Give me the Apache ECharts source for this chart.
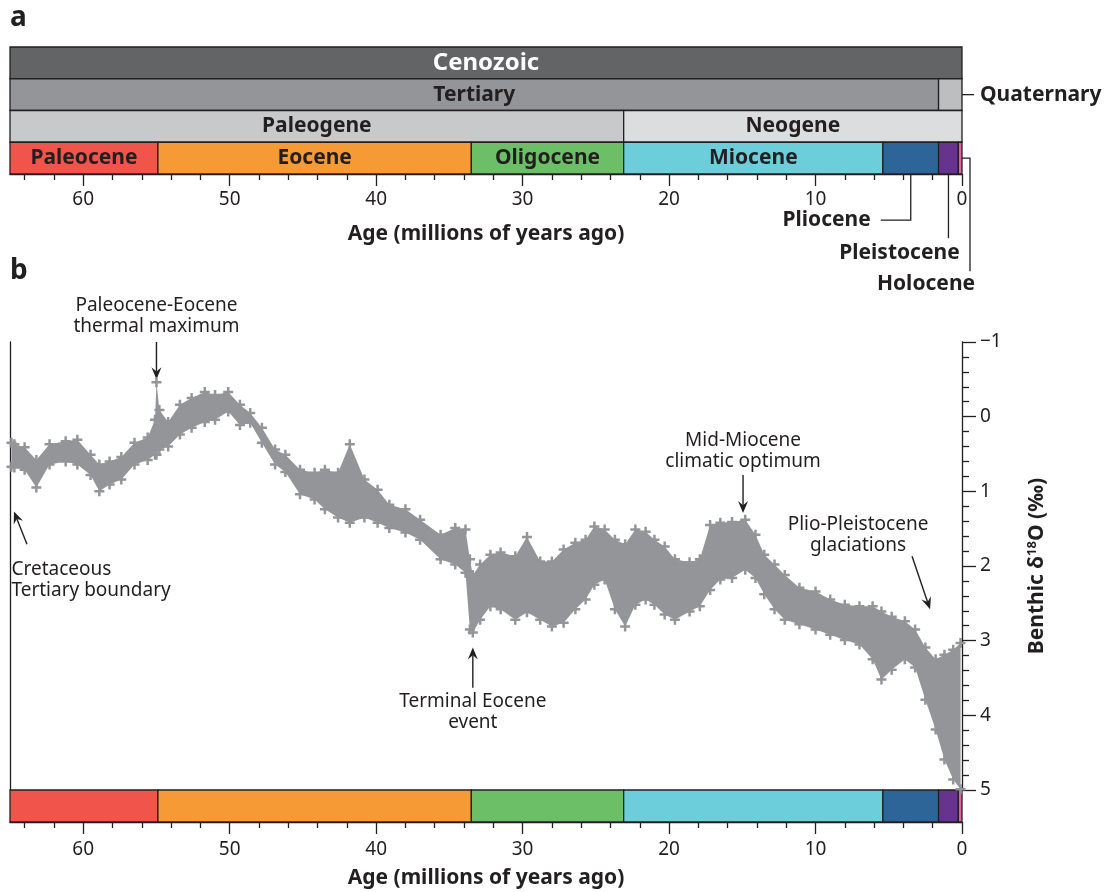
<!DOCTYPE html>
<html>
<head>
<meta charset="utf-8">
<script src="https://cdn.jsdelivr.net/npm/echarts@6.0.0/dist/echarts.min.js"></script>
<style>
  html, body { margin: 0; padding: 0; background: #fff; }
  #chart { width: 1106px; height: 892px; }
</style>
</head>
<body>
<div id="chart"></div>
<script>
const FONT = '"Noto Sans", "Open Sans", sans-serif';
const INK = '#231f20';
const GRAY = '#939598';

// geologic time scale, ages in Ma
const rowNames = ['era', 'period', 'subperiod', 'epoch'];
const eraNames = ['Cenozoic'];
const eraStart = [65];
const eraEnd = [0];
const periodNames = ['Tertiary', 'Quaternary'];
const periodStart = [65, 1.6];
const periodEnd = [1.6, 0];
const subperiodNames = ['Paleogene', 'Neogene'];
const subperiodStart = [65, 23.1];
const subperiodEnd = [23.1, 0];
const epochNames = ['Paleocene', 'Eocene', 'Oligocene', 'Miocene', 'Pliocene', 'Pleistocene', 'Holocene'];
const epochStart = [65, 54.9, 33.5, 23.1, 5.4, 1.6, 0.25];
const epochEnd = [54.9, 33.5, 23.1, 5.4, 1.6, 0.25, 0];

// axis ticks
const ageMajorTicks = [0, 10, 20, 30, 40, 50, 60];
const ageMinorTicks = [2, 4, 6, 8, 12, 14, 16, 18, 22, 24, 26, 28, 32, 34, 36, 38, 42, 44, 46, 48, 52, 54, 56, 58, 62, 64];

// benthic d18O record: age, lightest and heaviest values of the cloud
const ages = [64.9, 64.7, 64.0, 63.2, 62.3, 61.2, 60.4, 59.5, 58.9, 58.2, 57.4, 56.5, 55.6, 55.1, 55.0, 54.8,
  54.2, 53.4, 52.6, 51.7, 51.0, 50.1, 49.3, 48.6, 47.8, 46.9, 46.2, 45.2, 44.2, 43.5, 42.6, 41.8,
  40.8, 39.9, 39.1, 38.0, 37.0, 35.6, 34.6, 33.9, 33.6, 33.4, 32.9, 32.2, 31.5, 30.5, 29.7, 28.8,
  28.0, 27.2, 26.4, 25.7, 25.1, 24.4, 23.7, 23.0, 22.3, 21.6, 21.0, 20.3, 19.6, 18.6, 17.9, 17.2,
  16.5, 15.7, 14.8, 14.1, 13.5, 12.8, 12.1, 11.1, 10.0, 9.0, 8.0, 7.0, 6.1, 5.5, 4.8, 3.9,
  3.2, 2.5, 1.8, 1.2, 0.6, 0.1];
const d18oLight = [0.35, 0.37, 0.41, 0.58, 0.37, 0.33, 0.31, 0.51, 0.64, 0.60, 0.54, 0.35, 0.28, 0.04, -0.46, -0.09,
  0.07, -0.16, -0.25, -0.33, -0.29, -0.33, -0.16, -0.05, 0.15, 0.44, 0.51, 0.71, 0.75, 0.71, 0.75, 0.37,
  0.84, 0.98, 1.18, 1.24, 1.38, 1.58, 1.49, 1.51, 1.91, 2.12, 1.98, 1.85, 1.82, 1.87, 1.61, 1.94,
  1.94, 1.78, 1.69, 1.65, 1.47, 1.51, 1.65, 1.71, 1.51, 1.54, 1.65, 1.74, 1.91, 1.95, 1.91, 1.45,
  1.42, 1.41, 1.38, 1.58, 1.85, 1.98, 2.12, 2.29, 2.34, 2.45, 2.52, 2.54, 2.54, 2.61, 2.68, 2.74,
  2.85, 3.09, 3.25, 3.19, 3.12, 3.03];
const d18oHeavy = [0.67, 0.68, 0.71, 0.95, 0.64, 0.60, 0.64, 0.78, 1.00, 0.91, 0.84, 0.64, 0.58, 0.51, 0.51, 0.44,
  0.40, 0.24, 0.15, 0.07, 0.04, -0.07, 0.11, 0.08, 0.35, 0.64, 0.74, 1.04, 1.11, 1.24, 1.35, 1.42,
  1.35, 1.42, 1.49, 1.55, 1.65, 1.91, 1.98, 2.09, 2.85, 2.89, 2.72, 2.54, 2.58, 2.72, 2.62, 2.72,
  2.81, 2.76, 2.58, 2.45, 2.25, 2.18, 2.58, 2.81, 2.52, 2.45, 2.52, 2.65, 2.72, 2.61, 2.54, 2.32,
  2.18, 2.16, 2.05, 2.16, 2.38, 2.58, 2.72, 2.78, 2.85, 2.92, 2.99, 3.05, 3.25, 3.52, 3.39, 3.25,
  3.36, 3.79, 4.19, 4.59, 4.86, 4.99];

const fills = {
  Cenozoic: '#636466', Tertiary: '#939598', Quaternary: '#bcbec0',
  Paleogene: '#c8c9cb', Neogene: '#dcdddf',
  Paleocene: '#f0544a', Eocene: '#f69a36', Oligocene: '#6dbf67', Miocene: '#6ccddb',
  Pliocene: '#2e6599', Pleistocene: '#66338f', Holocene: '#e85fa4'
};
const labelled = ['Cenozoic', 'Tertiary', 'Paleogene', 'Neogene', 'Paleocene', 'Eocene', 'Oligocene', 'Miocene'];

function rowData(names, starts, ends, row) {
  return names.map((n, i) => [starts[i], ends[i], row, n]);
}
const scaleData = [].concat(
  rowData(eraNames, eraStart, eraEnd, 0),
  rowData(periodNames, periodStart, periodEnd, 1),
  rowData(subperiodNames, subperiodStart, subperiodEnd, 2),
  rowData(epochNames, epochStart, epochEnd, 3)
);
const bandData = rowData(epochNames, epochStart, epochEnd, 0);

function boxRenderer(list, withText) {
  return function (params, api) {
    const d = list[params.dataIndex];
    const p0 = api.coord([d[0], d[2]]);
    const p1 = api.coord([d[1], d[2]]);
    const h = api.size([0, 1])[1];
    const el = {
      type: 'rect',
      shape: { x: p0[0], y: p0[1] - h / 2, width: p1[0] - p0[0], height: h },
      style: { fill: fills[d[3]], stroke: INK, lineWidth: 1.3 }
    };
    if (withText && labelled.includes(d[3])) {
      const big = d[3] === 'Cenozoic';
      el.textContent = {
        style: { text: d[3], fill: big ? '#fff' : INK, font: 'bold ' + (big ? 24 : 21) + 'px ' + FONT }
      };
      el.textConfig = { position: 'inside' };
    }
    return el;
  };
}

function ageAxes(grid, margin, nameGap) {
  return [{
    gridIndex: grid, type: 'value', min: 0, max: 65, inverse: true, position: 'bottom',
    axisLine: { show: true, lineStyle: { color: INK, width: 1.3 } },
    axisTick: { show: true, customValues: ageMajorTicks, length: 12, lineStyle: { color: INK, width: 1.3 } },
    axisLabel: { customValues: ageMajorTicks, margin: margin, fontSize: 19, color: INK, fontFamily: FONT },
    splitLine: { show: false },
    name: 'Age (millions of years ago)', nameLocation: 'middle', nameGap: nameGap,
    nameTextStyle: { fontSize: 21, fontWeight: 'bold', color: INK, fontFamily: FONT }
  }, {
    gridIndex: grid, type: 'value', min: 0, max: 65, inverse: true, position: 'bottom',
    axisLine: { show: false },
    axisTick: { show: true, customValues: ageMinorTicks, length: 6, lineStyle: { color: INK, width: 1.3 } },
    axisLabel: { show: false },
    splitLine: { show: false }
  }];
}

const chart = echarts.init(document.getElementById('chart'));
chart.setOption({
  animation: false,
  grid: [
    { left: 10, right: 144, top: 47, height: 127, outerBoundsMode: 'none' },
    { left: 10, right: 144, top: 342, height: 448, outerBoundsMode: 'none' },
    { left: 10, right: 144, top: 790, height: 32, outerBoundsMode: 'none' }
  ],
  xAxis: [].concat(
    ageAxes(0, 16, 50),
    [{ gridIndex: 1, type: 'value', min: 0, max: 65, inverse: true, show: false }],
    ageAxes(2, 18, 46)
  ),
  yAxis: [
    { gridIndex: 0, type: 'category', data: rowNames, inverse: true, show: false },
    {
      gridIndex: 1, type: 'value', position: 'right', min: -1, max: 5, interval: 1, inverse: true,
      axisLine: { show: true, lineStyle: { color: INK, width: 1.3 } },
      axisTick: { show: true, length: 14, lineStyle: { color: INK, width: 1.3 } },
      minorTick: { show: true, splitNumber: 5, length: 7, lineStyle: { color: INK, width: 1.3 } },
      axisLabel: {
        margin: 18, fontSize: 19, color: INK, fontFamily: FONT,
        formatter: v => (v < 0 ? '\u2212' + Math.abs(v) : String(v))
      },
      splitLine: { show: false },
      name: '{a|Benthic \u03b4}{s|18}{a|O (\u2030)}',
      nameLocation: 'middle', nameRotate: 90, nameGap: 64,
      nameTextStyle: {
        rich: {
          a: { fontSize: 21, fontWeight: 'bold', color: INK, fontFamily: FONT },
          s: { fontSize: 13, fontWeight: 'bold', color: INK, fontFamily: FONT, padding: [0, 0, 10, 0] }
        }
      }
    },
    {
      gridIndex: 1, type: 'value', position: 'left', min: -1, max: 5, inverse: true,
      axisLine: { show: true, lineStyle: { color: INK, width: 1.3 } },
      axisTick: { show: false }, axisLabel: { show: false }, splitLine: { show: false }
    },
    { gridIndex: 2, type: 'category', data: ['epoch'], show: false }
  ],
  series: [
    {
      type: 'custom', xAxisIndex: 0, yAxisIndex: 0,
      encode: { x: [0, 1], y: 2 },
      data: scaleData,
      renderItem: boxRenderer(scaleData, true)
    },
    {
      type: 'custom', xAxisIndex: 2, yAxisIndex: 1,
      data: [[0, 0]],
      renderItem: function (params, api) {
        const top = ages.map((a, i) => api.coord([a, d18oLight[i]]));
        const bottom = ages.map((a, i) => api.coord([a, d18oHeavy[i]])).reverse();
        return { type: 'polygon', shape: { points: top.concat(bottom) }, style: { fill: GRAY } };
      }
    },
    {
      type: 'scatter', xAxisIndex: 2, yAxisIndex: 1,
      symbol: 'path://M3,0H5V3H8V5H5V8H3V5H0V3H3Z', symbolSize: 10,
      itemStyle: { color: GRAY, opacity: 1 },
      data: ages.map((a, i) => [a, d18oLight[i]]).concat(ages.map((a, i) => [a, d18oHeavy[i]]))
    },
    {
      type: 'custom', xAxisIndex: 3, yAxisIndex: 3,
      encode: { x: [0, 1], y: 2 },
      data: bandData,
      renderItem: boxRenderer(bandData, false)
    }
  ]
});

// annotations, anchored to the data coordinates
const inB = p => chart.convertToPixel({ seriesIndex: 2 }, p);
const inA = p => chart.convertToPixel({ seriesIndex: 0 }, p);

function arrow(p0, p1) {
  const dx = p1[0] - p0[0], dy = p1[1] - p0[1];
  const L = Math.hypot(dx, dy), ux = dx / L, uy = dy / L;
  const hl = 12, hw = 5;
  const bx = p1[0] - ux * hl, by = p1[1] - uy * hl;
  const nx = p1[0] - ux * hl * 0.65, ny = p1[1] - uy * hl * 0.65;
  return [
    { type: 'line', shape: { x1: p0[0], y1: p0[1], x2: nx, y2: ny }, style: { stroke: INK, lineWidth: 1.4 } },
    { type: 'polygon', shape: { points: [[p1[0], p1[1]], [bx - uy * hw, by + ux * hw], [nx, ny], [bx + uy * hw, by - ux * hw]] }, style: { fill: INK } }
  ];
}
function label(text, p, align, vAlign, font) {
  return {
    type: 'text', x: p[0], y: p[1],
    style: { text: text, font: font || ('19px ' + FONT), fill: INK, align: align, verticalAlign: vAlign, textAlign: align, textVerticalAlign: vAlign, lineHeight: 21 }
  };
}
function path(points) {
  return { type: 'polyline', shape: { points: points }, style: { stroke: INK, lineWidth: 1.3, fill: null } };
}

const notes = [
  { text: 'Paleocene-Eocene\nthermal maximum', from: [55.0, -1.0], to: [55.0, -0.5], at: [55.0, -1.06], align: 'center', v: 'bottom' },
  { text: 'Cretaceous\nTertiary boundary', from: [63.84, 1.71], to: [64.73, 1.27], at: [64.9, 1.91], align: 'left', v: 'top' },
  { text: 'Terminal Eocene\nevent', from: [33.4, 3.63], to: [33.4, 3.09], at: [33.4, 3.68], align: 'center', v: 'top' },
  { text: 'Mid-Miocene\nclimatic optimum', from: [14.95, 0.78], to: [14.95, 1.29], at: [14.95, 0.74], align: 'center', v: 'bottom' },
  { text: 'Plio-Pleistocene\nglaciations', from: [3.41, 1.87], to: [2.18, 2.58], at: [7.1, 1.87], align: 'center', v: 'bottom' }
];

const els = [];
notes.forEach(n => {
  arrow(inB(n.from), inB(n.to)).forEach(e => els.push(e));
  els.push(label(n.text, inB(n.at), n.align, n.v));
});

// leader lines for the narrow units of the time scale
const boldSmall = 'bold 21px ' + FONT;
const q = inA([0.8, 1]);
const zero = inA([0, 1])[0];
els.push(path([[q[0], q[1]], [zero + 12, q[1]]]));
els.push(label('Quaternary', [zero + 18, q[1]], 'left', 'middle', boldSmall));
const pl = inA([(epochStart[4] + epochEnd[4]) / 2, 3]);
els.push(path([[pl[0], pl[1]], [pl[0], pl[1] + 62], [pl[0] - 30, pl[1] + 62]]));
els.push(label('Pliocene', [pl[0] - 40, pl[1] + 62], 'right', 'middle', boldSmall));
const ps = inA([(epochStart[5] + epochEnd[5]) / 2, 3]);
els.push(path([[ps[0], ps[1]], [ps[0], ps[1] + 80]]));
els.push(label('Pleistocene', [ps[0] - 49, ps[1] + 95], 'center', 'middle', boldSmall));
const ho = inA([0, 3]);
els.push(path([[ho[0], ho[1]], [ho[0] + 8, ho[1]], [ho[0] + 8, ho[1] + 113]]));
els.push(label('Holocene', [ho[0] - 36, ho[1] + 126], 'center', 'middle', boldSmall));

// panel letters
els.push(label('a', [10, 18], 'left', 'middle', 'bold 28px ' + FONT));
els.push(label('b', [10, 271], 'left', 'middle', 'bold 28px ' + FONT));

chart.setOption({ graphic: { elements: els } });
</script>
</body>
</html>
